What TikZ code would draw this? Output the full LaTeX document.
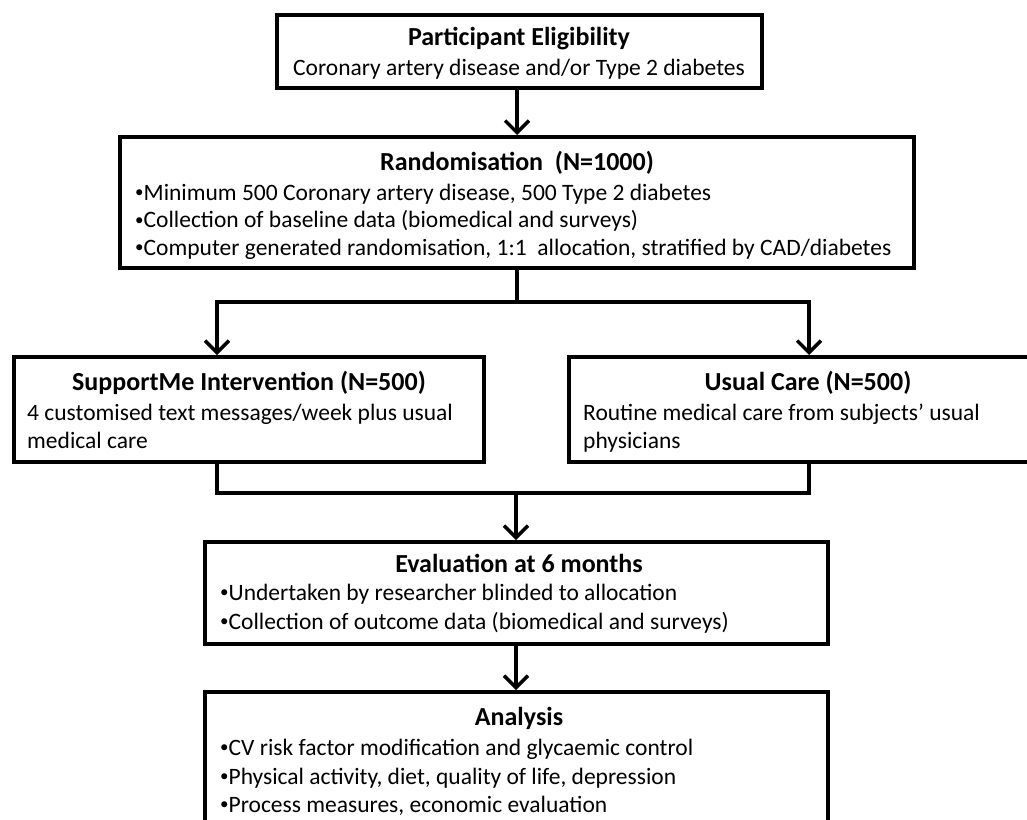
\documentclass[tikz,border=0pt]{standalone}
\usepackage{fontspec}
\setmainfont{Carlito}
\usetikzlibrary{arrows.meta}

\newcommand{\dotmark}{\raisebox{2.5pt}{\fontsize{17}{17}\selectfont\textbullet}}

\tikzset{
  stage/.style={draw, rectangle, line width=4pt, inner sep=0pt},
  head/.style={font=\fontsize{26}{28}\selectfont\bfseries, inner sep=0pt, anchor=base},
  body/.style={font=\fontsize{23.5}{28}\selectfont, inner sep=0pt, anchor=base west, align=left},
  link/.style={line width=3.5pt},
  tip/.tip={Straight Barb[length=12pt,width=24pt]},
  flow/.style={link, -tip}
}

\begin{document}
\begin{tikzpicture}[line join=miter,x=1pt,y=-1pt]
\useasboundingbox (0,0) rectangle (1027,819);
\clip (0,0) rectangle (1027,819);
\node[stage, minimum width=485, minimum height=73] (elig) at (519.5,51.5) {};
\node[head] (eligTitle) at (519,45) {Participant Eligibility};
\node[body, anchor=base] (eligText) at (519,75) {Coronary artery disease and/or Type 2 diabetes};
\node[stage, minimum width=794, minimum height=131] (rand) at (517,202.5) {};
\node[head] (randTitle) at (517,170) {Randomisation~ (N=1000)};
\node[body] (randText) at (135,255) {\dotmark Minimum 500 Coronary artery disease, 500 Type 2 diabetes\\[-0.5pt]
\dotmark Collection of baseline data (biomedical and surveys)\\[-0.5pt]
\dotmark Computer generated randomisation, 1:1~ allocation, stratified by CAD/diabetes};
\node[stage, minimum width=470, minimum height=105] (supp) at (249,409.5) {};
\node[head] (suppTitle) at (249,390) {SupportMe Intervention (N=500)};
\node[body] (suppText) at (27,448) {4 customised text messages/week plus usual\\medical care};
\node[stage, minimum width=476, minimum height=105] (usual) at (807,409.5) {};
\node[head] (usualTitle) at (808,390) {Usual Care (N=500)};
\node[body] (usualText) at (583,448) {Routine medical care from subjects’ usual\\physicians};
\node[stage, minimum width=623, minimum height=102] (eval) at (516,593) {};
\node[head] (evalTitle) at (519,572) {Evaluation at 6 months};
\node[body] (evalText) at (220,629) {\dotmark Undertaken by researcher blinded to allocation\\[1pt]
\dotmark Collection of outcome data (biomedical and surveys)};
\node[stage, minimum width=623, minimum height=140] (anal) at (516,762) {};
\node[head] (analTitle) at (519,725) {Analysis};
\node[body] (analText) at (220,812) {\dotmark CV risk factor modification and glycaemic control\\[1pt]
\dotmark Physical activity, diet, quality of life, depression\\[0pt]
\dotmark Process measures, economic evaluation};
\coordinate (split) at (517,302);
\coordinate (splitL) at (217,302);
\coordinate (splitR) at (809,302);
\coordinate (join) at (516,493);
\coordinate (joinL) at (217,493);
\coordinate (joinR) at (809,493);
\draw[flow] (elig.south -| rand.north) -- (rand.north);
\draw[link] (rand.south) -- (split);
\draw[link, tip-tip] (splitL |- supp.north) -- (splitL) -- (splitR) -- (splitR |- usual.north);
\draw[link] (joinL |- supp.south) -- (joinL) -- (joinR) -- (joinR |- usual.south);
\draw[flow] (join) -- (join |- eval.north);
\draw[flow] (eval.south) -- (anal.north);
\end{tikzpicture}
\end{document}
